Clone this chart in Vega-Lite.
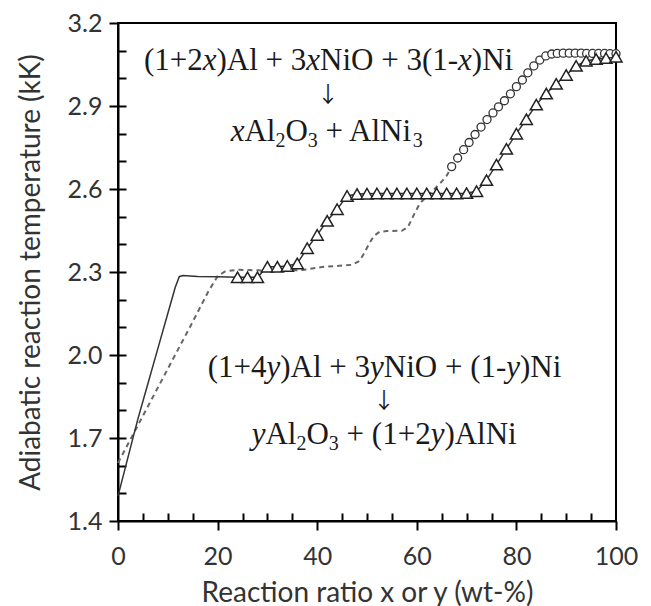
{
  "$schema": "https://vega.github.io/schema/vega-lite/v6.json",
  "width": 498,
  "height": 498,
  "autosize": {"type": "none"},
  "padding": {"left": 118, "top": 23, "right": 35, "bottom": 85},
  "background": "white",
  "config": {
    "view": {"stroke": "black", "strokeWidth": 2},
    "axis": {
      "grid": false,
      "domainColor": "black",
      "domainWidth": 2,
      "tickColor": "black",
      "tickWidth": 2,
      "labelColor": "#333333",
      "labelFont": "Lato",
      "labelFontSize": 25,
      "labelFlush": false,
      "labelOverlap": false,
      "labelBound": false,
      "titleFont": "Lato",
      "titleFontSize": 28,
      "titleFontWeight": "normal",
      "titleColor": "#333333"
    }
  },
  "datasets": {
    "dashed": [
      {"x": 0, "y": 1.61}, {"x": 5, "y": 1.78}, {"x": 10, "y": 1.95}, {"x": 15, "y": 2.12},
      {"x": 18, "y": 2.225}, {"x": 20, "y": 2.285}, {"x": 21.5, "y": 2.302}, {"x": 24, "y": 2.308},
      {"x": 28, "y": 2.306}, {"x": 33, "y": 2.305}, {"x": 37, "y": 2.307}, {"x": 41, "y": 2.318},
      {"x": 44, "y": 2.322}, {"x": 47, "y": 2.326}, {"x": 48.5, "y": 2.34}, {"x": 49.5, "y": 2.37},
      {"x": 50.5, "y": 2.405}, {"x": 51.5, "y": 2.432}, {"x": 52.5, "y": 2.445}, {"x": 54, "y": 2.448},
      {"x": 57, "y": 2.449}, {"x": 58.2, "y": 2.462}, {"x": 59.5, "y": 2.51}, {"x": 60.6, "y": 2.548},
      {"x": 62.7, "y": 2.584}, {"x": 64.7, "y": 2.621}, {"x": 66, "y": 2.648},
      {"x": 67.0, "y": 2.681}, {"x": 68.2, "y": 2.712}, {"x": 69.4, "y": 2.742}, {"x": 70.5, "y": 2.768},
      {"x": 71.7, "y": 2.797}, {"x": 72.9, "y": 2.824}, {"x": 74.1, "y": 2.851}, {"x": 75.3, "y": 2.875},
      {"x": 76.4, "y": 2.897}, {"x": 77.6, "y": 2.919}, {"x": 78.8, "y": 2.944}, {"x": 80.0, "y": 2.97},
      {"x": 81.2, "y": 2.994}, {"x": 82.3, "y": 3.02}, {"x": 83.5, "y": 3.045}, {"x": 84.7, "y": 3.066},
      {"x": 85.9, "y": 3.081}, {"x": 87.1, "y": 3.088}, {"x": 88.2, "y": 3.09}, {"x": 89.4, "y": 3.091},
      {"x": 90.6, "y": 3.091}, {"x": 91.8, "y": 3.091}, {"x": 93.0, "y": 3.091}, {"x": 94.1, "y": 3.09},
      {"x": 95.3, "y": 3.09}, {"x": 96.5, "y": 3.09}, {"x": 97.7, "y": 3.09}, {"x": 98.8, "y": 3.089},
      {"x": 100.0, "y": 3.089}
    ],
    "circles": [
      {"x": 67.0, "y": 2.681}, {"x": 68.2, "y": 2.712}, {"x": 69.4, "y": 2.742}, {"x": 70.5, "y": 2.768},
      {"x": 71.7, "y": 2.797}, {"x": 72.9, "y": 2.824}, {"x": 74.1, "y": 2.851}, {"x": 75.3, "y": 2.875},
      {"x": 76.4, "y": 2.897}, {"x": 77.6, "y": 2.919}, {"x": 78.8, "y": 2.944}, {"x": 80.0, "y": 2.97},
      {"x": 81.2, "y": 2.994}, {"x": 82.3, "y": 3.02}, {"x": 83.5, "y": 3.045}, {"x": 84.7, "y": 3.066},
      {"x": 85.9, "y": 3.081}, {"x": 87.1, "y": 3.088}, {"x": 88.2, "y": 3.09}, {"x": 89.4, "y": 3.091},
      {"x": 90.6, "y": 3.091}, {"x": 91.8, "y": 3.091}, {"x": 93.0, "y": 3.091}, {"x": 94.1, "y": 3.09},
      {"x": 95.3, "y": 3.09}, {"x": 96.5, "y": 3.09}, {"x": 97.7, "y": 3.09}, {"x": 98.8, "y": 3.089},
      {"x": 100.0, "y": 3.089}
    ],
    "solid": [
      {"x": 0, "y": 1.49}, {"x": 2, "y": 1.63}, {"x": 4, "y": 1.769}, {"x": 6, "y": 1.896},
      {"x": 8, "y": 2.023}, {"x": 10, "y": 2.15}, {"x": 11.5, "y": 2.245}, {"x": 12.3, "y": 2.283},
      {"x": 13, "y": 2.287}, {"x": 16, "y": 2.284}, {"x": 20, "y": 2.283}, {"x": 22, "y": 2.282},
      {"x": 24, "y": 2.281}, {"x": 26, "y": 2.281}, {"x": 28, "y": 2.281}, {"x": 30, "y": 2.319},
      {"x": 32, "y": 2.319}, {"x": 34, "y": 2.322}, {"x": 36, "y": 2.331}, {"x": 38, "y": 2.386},
      {"x": 40, "y": 2.434}, {"x": 42, "y": 2.485}, {"x": 44, "y": 2.527}, {"x": 46, "y": 2.575},
      {"x": 48, "y": 2.582}, {"x": 50, "y": 2.583}, {"x": 52, "y": 2.584}, {"x": 54, "y": 2.584},
      {"x": 56, "y": 2.584}, {"x": 58, "y": 2.584}, {"x": 60, "y": 2.584}, {"x": 62, "y": 2.584},
      {"x": 64, "y": 2.584}, {"x": 66, "y": 2.584}, {"x": 68, "y": 2.584}, {"x": 70, "y": 2.585},
      {"x": 72, "y": 2.592}, {"x": 74, "y": 2.632}, {"x": 76, "y": 2.688}, {"x": 78, "y": 2.745},
      {"x": 80, "y": 2.8}, {"x": 82, "y": 2.852}, {"x": 84, "y": 2.905}, {"x": 86, "y": 2.945},
      {"x": 88, "y": 2.98}, {"x": 90, "y": 3.012}, {"x": 92, "y": 3.045}, {"x": 94, "y": 3.063},
      {"x": 96, "y": 3.07}, {"x": 98, "y": 3.073}, {"x": 100, "y": 3.078}
    ],
    "triangles": [
      {"x": 24, "y": 2.281}, {"x": 26, "y": 2.281}, {"x": 28, "y": 2.281}, {"x": 30, "y": 2.319},
      {"x": 32, "y": 2.319}, {"x": 34, "y": 2.322}, {"x": 36, "y": 2.331}, {"x": 38, "y": 2.386},
      {"x": 40, "y": 2.434}, {"x": 42, "y": 2.485}, {"x": 44, "y": 2.527}, {"x": 46, "y": 2.575},
      {"x": 48, "y": 2.582}, {"x": 50, "y": 2.583}, {"x": 52, "y": 2.584}, {"x": 54, "y": 2.584},
      {"x": 56, "y": 2.584}, {"x": 58, "y": 2.584}, {"x": 60, "y": 2.584}, {"x": 62, "y": 2.584},
      {"x": 64, "y": 2.584}, {"x": 66, "y": 2.584}, {"x": 68, "y": 2.584}, {"x": 70, "y": 2.585},
      {"x": 72, "y": 2.592}, {"x": 74, "y": 2.632}, {"x": 76, "y": 2.688}, {"x": 78, "y": 2.745},
      {"x": 80, "y": 2.8}, {"x": 82, "y": 2.852}, {"x": 84, "y": 2.905}, {"x": 86, "y": 2.945},
      {"x": 88, "y": 2.98}, {"x": 90, "y": 3.012}, {"x": 92, "y": 3.045}, {"x": 94, "y": 3.063},
      {"x": 96, "y": 3.07}, {"x": 98, "y": 3.073}, {"x": 100, "y": 3.078}
    ],
    "normalText": [
      {"x": 5.201, "y": 3.03, "t": "(1+2"},
      {"x": 19.773, "y": 3.03, "t": ")Al + 3"},
      {"x": 40.57, "y": 3.03, "t": "NiO + 3(1-"},
      {"x": 71.046, "y": 3.03, "t": ")Ni"},
      {"x": 25.384, "y": 2.775, "t": "Al"},
      {"x": 33.616, "y": 2.775, "t": "O"},
      {"x": 41.675, "y": 2.775, "t": "+ AlNi"},
      {"x": 17.998, "y": 1.919, "t": "(1+4"},
      {"x": 32.57, "y": 1.919, "t": ")Al + 3"},
      {"x": 53.367, "y": 1.919, "t": "NiO + (1-"},
      {"x": 80.731, "y": 1.919, "t": ")Ni"},
      {"x": 29.61, "y": 1.679, "t": "Al"},
      {"x": 37.843, "y": 1.679, "t": "O"},
      {"x": 45.902, "y": 1.679, "t": "+ (1+2"},
      {"x": 65.54, "y": 1.679, "t": ")AlNi"}
    ],
    "italicText": [
      {"x": 17.01, "y": 3.03, "t": "x"},
      {"x": 37.807, "y": 3.03, "t": "x"},
      {"x": 68.283, "y": 3.03, "t": "x"},
      {"x": 22.621, "y": 2.775, "t": "x"},
      {"x": 29.807, "y": 1.919, "t": "y"},
      {"x": 50.604, "y": 1.919, "t": "y"},
      {"x": 77.968, "y": 1.919, "t": "y"},
      {"x": 26.847, "y": 1.679, "t": "y"},
      {"x": 62.777, "y": 1.679, "t": "y"}
    ],
    "subText": [
      {"x": 31.608, "y": 2.753, "t": "2"},
      {"x": 38.11, "y": 2.753, "t": "3"},
      {"x": 59.191, "y": 2.753, "t": "3"},
      {"x": 35.835, "y": 1.657, "t": "2"},
      {"x": 42.337, "y": 1.657, "t": "3"}
    ],
    "arrows": [
      {"x": 42.17, "y": 2.94, "t": "↓"},
      {"x": 53.41, "y": 1.833, "t": "↓"}
    ]
  },
  "encoding": {
    "x": {"field": "x", "type": "quantitative", "scale": {"domain": [0, 100], "nice": false, "zero": false}, "axis": null},
    "y": {"field": "y", "type": "quantitative", "scale": {"domain": [1.4, 3.2], "nice": false, "zero": false}, "axis": null}
  },
  "layer": [
    {
      "data": {"name": "dashed"},
      "mark": {"type": "line", "color": "#666666", "strokeWidth": 2, "strokeDash": [5, 4]},
      "encoding": {
        "x": {"field": "x", "type": "quantitative", "scale": {"domain": [0, 100], "nice": false, "zero": false},
          "axis": {"orient": "bottom", "values": [0, 20, 40, 60, 80, 100], "tickSize": 9, "labelPadding": 14, "titlePadding": 10, "title": "Reaction ratio x or y (wt-%)"}},
        "y": {"field": "y", "type": "quantitative", "scale": {"domain": [1.4, 3.2], "nice": false, "zero": false},
          "axis": {"orient": "left", "values": [1.4, 1.7, 2.0, 2.3, 2.6, 2.9, 3.2], "format": ".1f", "tickSize": 9, "labelPadding": 7, "titlePadding": 22, "title": "Adiabatic reaction temperature (kK)"}}
      }
    },
    {
      "data": {"name": "solid"},
      "mark": {"type": "line", "color": "#333333", "strokeWidth": 1.5},
      "encoding": {
        "x": {"field": "x", "type": "quantitative", "scale": {"domain": [0, 100], "nice": false, "zero": false},
          "axis": {"orient": "bottom", "values": [5, 10, 15, 25, 30, 35, 45, 50, 55, 65, 70, 75, 85, 90, 95], "tickSize": -8, "labels": false, "domain": false, "title": null}},
        "y": {"field": "y", "type": "quantitative", "scale": {"domain": [1.4, 3.2], "nice": false, "zero": false},
          "axis": {"orient": "left", "values": [1.5, 1.6, 1.7, 1.8, 1.9, 2.0, 2.1, 2.2, 2.3, 2.4, 2.5, 2.6, 2.7, 2.8, 2.9, 3.0, 3.1], "tickSize": -8, "labels": false, "domain": false, "title": null}}
      }
    },
    {
      "data": {"name": "circles"},
      "mark": {"type": "point", "shape": "circle", "filled": true, "fill": "white", "stroke": "#333333", "strokeWidth": 1.3, "size": 64, "opacity": 1}
    },
    {
      "data": {"name": "triangles"},
      "mark": {"type": "point", "shape": "triangle-up", "filled": true, "fill": "white", "stroke": "#222222", "strokeWidth": 1.5, "size": 145, "opacity": 1}
    },
    {
      "data": {"name": "normalText"},
      "mark": {"type": "text", "font": "Liberation Serif", "fontSize": 31, "align": "left", "baseline": "alphabetic", "color": "#1a1a1a"},
      "encoding": {"text": {"field": "t"}}
    },
    {
      "data": {"name": "italicText"},
      "mark": {"type": "text", "font": "Liberation Serif", "fontSize": 31, "fontStyle": "italic", "align": "left", "baseline": "alphabetic", "color": "#1a1a1a"},
      "encoding": {"text": {"field": "t"}}
    },
    {
      "data": {"name": "subText"},
      "mark": {"type": "text", "font": "Liberation Serif", "fontSize": 20, "align": "left", "baseline": "alphabetic", "color": "#1a1a1a"},
      "encoding": {"text": {"field": "t"}}
    },
    {
      "data": {"name": "arrows"},
      "mark": {"type": "text", "font": "Noto Sans CJK JP", "fontSize": 22, "align": "center", "baseline": "middle", "color": "#1a1a1a"},
      "encoding": {"text": {"field": "t"}}
    }
  ],
  "resolve": {"axis": {"x": "independent", "y": "independent"}}
}
